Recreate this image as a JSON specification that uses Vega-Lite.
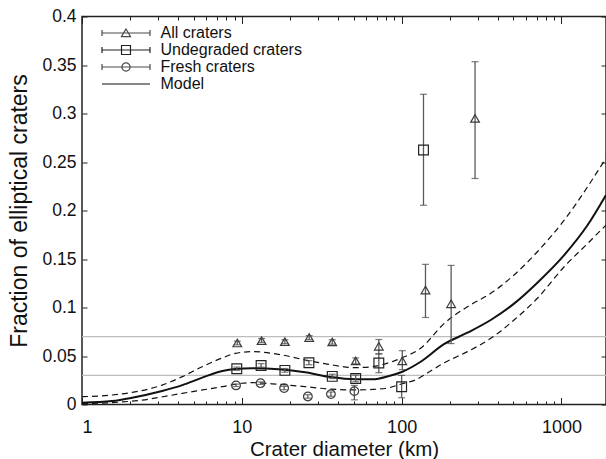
{
  "$schema": "https://vega.github.io/schema/vega-lite/v6.json",
  "width": 524,
  "height": 388,
  "autosize": {"type": "none"},
  "padding": {"left": 82, "top": 16.5, "right": 0, "bottom": 54.5},
  "config": {
    "font": "Liberation Sans",
    "view": {"stroke": "#222", "strokeWidth": 1.5},
    "axis": {"grid": false, "domain": false, "tickColor": "#222", "tickWidth": 1, "labelColor": "#111", "titleColor": "#111", "titleFontWeight": "normal", "labelFont": "Liberation Sans", "titleFont": "Liberation Sans"}
  },
  "datasets": {
    "model": [
      {"d": 1, "v": 0.0019, "curve": "model"},
      {"d": 1.54, "v": 0.0036, "curve": "model"},
      {"d": 2.06, "v": 0.007, "curve": "model"},
      {"d": 3.17, "v": 0.0139, "curve": "model"},
      {"d": 4.24, "v": 0.02, "curve": "model"},
      {"d": 5.65, "v": 0.0277, "curve": "model"},
      {"d": 7.55, "v": 0.0345, "curve": "model"},
      {"d": 9.1, "v": 0.0366, "curve": "model"},
      {"d": 11.6, "v": 0.0373, "curve": "model"},
      {"d": 17, "v": 0.0363, "curve": "model"},
      {"d": 24.9, "v": 0.0332, "curve": "model"},
      {"d": 34.9, "v": 0.0287, "curve": "model"},
      {"d": 51.3, "v": 0.026, "curve": "model"},
      {"d": 65.6, "v": 0.026, "curve": "model"},
      {"d": 83.4, "v": 0.0294, "curve": "model"},
      {"d": 101, "v": 0.0338, "curve": "model"},
      {"d": 131.6, "v": 0.0441, "curve": "model"},
      {"d": 185, "v": 0.0624, "curve": "model"},
      {"d": 258, "v": 0.074, "curve": "model"},
      {"d": 361, "v": 0.0871, "curve": "model"},
      {"d": 505, "v": 0.104, "curve": "model"},
      {"d": 707, "v": 0.1256, "curve": "model"},
      {"d": 1040, "v": 0.154, "curve": "model"},
      {"d": 1458, "v": 0.185, "curve": "model"},
      {"d": 1900, "v": 0.216, "curve": "model"},
      {"d": 1, "v": 0.008, "curve": "upper"},
      {"d": 1.54, "v": 0.0098, "curve": "upper"},
      {"d": 2.06, "v": 0.0125, "curve": "upper"},
      {"d": 3.17, "v": 0.02, "curve": "upper"},
      {"d": 4.24, "v": 0.0287, "curve": "upper"},
      {"d": 5.65, "v": 0.039, "curve": "upper"},
      {"d": 7.55, "v": 0.048, "curve": "upper"},
      {"d": 9.1, "v": 0.0527, "curve": "upper"},
      {"d": 11.6, "v": 0.0545, "curve": "upper"},
      {"d": 17, "v": 0.0517, "curve": "upper"},
      {"d": 24.9, "v": 0.0459, "curve": "upper"},
      {"d": 34.9, "v": 0.0414, "curve": "upper"},
      {"d": 51.3, "v": 0.038, "curve": "upper"},
      {"d": 65.6, "v": 0.039, "curve": "upper"},
      {"d": 83.4, "v": 0.0431, "curve": "upper"},
      {"d": 101, "v": 0.0483, "curve": "upper"},
      {"d": 131.6, "v": 0.058, "curve": "upper"},
      {"d": 185, "v": 0.0837, "curve": "upper"},
      {"d": 258, "v": 0.1008, "curve": "upper"},
      {"d": 361, "v": 0.1146, "curve": "upper"},
      {"d": 505, "v": 0.1335, "curve": "upper"},
      {"d": 707, "v": 0.1575, "curve": "upper"},
      {"d": 1040, "v": 0.19, "curve": "upper"},
      {"d": 1458, "v": 0.2245, "curve": "upper"},
      {"d": 1900, "v": 0.254, "curve": "upper"},
      {"d": 1, "v": 0.0008, "curve": "lower"},
      {"d": 2.38, "v": 0.0046, "curve": "lower"},
      {"d": 4.24, "v": 0.0115, "curve": "lower"},
      {"d": 7.55, "v": 0.0184, "curve": "lower"},
      {"d": 10.06, "v": 0.0219, "curve": "lower"},
      {"d": 11.6, "v": 0.0225, "curve": "lower"},
      {"d": 17, "v": 0.0208, "curve": "lower"},
      {"d": 24.9, "v": 0.0184, "curve": "lower"},
      {"d": 34.9, "v": 0.016, "curve": "lower"},
      {"d": 51.3, "v": 0.015, "curve": "lower"},
      {"d": 65.6, "v": 0.0155, "curve": "lower"},
      {"d": 83.4, "v": 0.0173, "curve": "lower"},
      {"d": 101, "v": 0.0215, "curve": "lower"},
      {"d": 122, "v": 0.0253, "curve": "lower"},
      {"d": 150, "v": 0.034, "curve": "lower"},
      {"d": 185, "v": 0.043, "curve": "lower"},
      {"d": 258, "v": 0.0545, "curve": "lower"},
      {"d": 361, "v": 0.0682, "curve": "lower"},
      {"d": 505, "v": 0.0871, "curve": "lower"},
      {"d": 707, "v": 0.1095, "curve": "lower"},
      {"d": 1040, "v": 0.142, "curve": "lower"},
      {"d": 1458, "v": 0.166, "curve": "lower"},
      {"d": 1900, "v": 0.185, "curve": "lower"}
    ],
    "points": [
      {"series": "All craters", "d": 9.37, "f": 0.0634, "lo": 0.0615, "hi": 0.0653},
      {"series": "All craters", "d": 13.3, "f": 0.0659, "lo": 0.064, "hi": 0.068},
      {"series": "All craters", "d": 18.6, "f": 0.0648, "lo": 0.0628, "hi": 0.0668},
      {"series": "All craters", "d": 26.4, "f": 0.069, "lo": 0.067, "hi": 0.071},
      {"series": "All craters", "d": 36.8, "f": 0.0645, "lo": 0.0622, "hi": 0.0668},
      {"series": "All craters", "d": 51.6, "f": 0.045, "lo": 0.042, "hi": 0.048},
      {"series": "All craters", "d": 72, "f": 0.06, "lo": 0.052, "hi": 0.067},
      {"series": "All craters", "d": 101, "f": 0.045, "lo": 0.036, "hi": 0.0555},
      {"series": "All craters", "d": 141, "f": 0.118, "lo": 0.0897, "hi": 0.1445},
      {"series": "All craters", "d": 204, "f": 0.1038, "lo": 0.0628, "hi": 0.1434},
      {"series": "All craters", "d": 288, "f": 0.295, "lo": 0.233, "hi": 0.3534},
      {"series": "Undegraded craters", "d": 9.3, "f": 0.0369, "lo": 0.0352, "hi": 0.0386},
      {"series": "Undegraded craters", "d": 13.2, "f": 0.0403, "lo": 0.0385, "hi": 0.0421},
      {"series": "Undegraded craters", "d": 18.6, "f": 0.0352, "lo": 0.0333, "hi": 0.0371},
      {"series": "Undegraded craters", "d": 26.3, "f": 0.0431, "lo": 0.041, "hi": 0.0452},
      {"series": "Undegraded craters", "d": 36.8, "f": 0.029, "lo": 0.0268, "hi": 0.0312},
      {"series": "Undegraded craters", "d": 51.6, "f": 0.0269, "lo": 0.0235, "hi": 0.0303},
      {"series": "Undegraded craters", "d": 72, "f": 0.0428, "lo": 0.0328, "hi": 0.0524},
      {"series": "Undegraded craters", "d": 100, "f": 0.0183, "lo": 0.007, "hi": 0.03},
      {"series": "Undegraded craters", "d": 137, "f": 0.2624, "lo": 0.2054, "hi": 0.3198},
      {"series": "Fresh craters", "d": 9.2, "f": 0.0197, "lo": 0.0185, "hi": 0.021},
      {"series": "Fresh craters", "d": 13.1, "f": 0.022, "lo": 0.0207, "hi": 0.0233},
      {"series": "Fresh craters", "d": 18.4, "f": 0.0169, "lo": 0.0152, "hi": 0.0186},
      {"series": "Fresh craters", "d": 25.9, "f": 0.0083, "lo": 0.0065, "hi": 0.0101},
      {"series": "Fresh craters", "d": 36.1, "f": 0.0107, "lo": 0.0085, "hi": 0.0129},
      {"series": "Fresh craters", "d": 50.6, "f": 0.0138, "lo": 0.0048, "hi": 0.0197}
    ],
    "refs": [{"g": 0.07}, {"g": 0.03}],
    "legend": [
      {"entry": "All craters"},
      {"entry": "Undegraded craters"},
      {"entry": "Fresh craters"},
      {"entry": "Model"}
    ]
  },
  "layer": [
    {
      "data": {"name": "refs"},
      "mark": {"type": "rule", "color": "#bdbdbd", "strokeWidth": 1.2},
      "encoding": {
        "y": {"field": "g", "type": "quantitative", "scale": {"domain": [0, 0.4], "nice": false},
          "axis": {"orient": "right", "values": [0, 0.05, 0.1, 0.15, 0.2, 0.25, 0.3, 0.35, 0.4], "labels": false, "tickSize": -5, "title": null}}
      }
    },
    {
      "data": {"name": "model"},
      "transform": [{"filter": "datum.curve == 'model'"}],
      "mark": {"type": "line", "color": "#111", "strokeWidth": 2, "interpolate": "monotone"},
      "encoding": {
        "x": {"field": "d", "type": "quantitative", "scale": {"type": "log", "domain": [1, 1900], "nice": false},
          "axis": {"orient": "bottom", "values": [1, 10, 100, 1000], "format": "~g", "labelFontSize": 18, "tickSize": -7, "labelPadding": 20.5, "title": "Crater diameter (km)", "titleFontSize": 20.5, "titlePadding": 3}},
        "y": {"field": "v", "type": "quantitative", "scale": {"domain": [0, 0.4], "nice": false},
          "axis": {"orient": "left", "values": [0, 0.05, 0.1, 0.15, 0.2, 0.25, 0.3, 0.35, 0.4], "format": "~g", "labelFontSize": 17.5, "tickSize": -5, "labelPadding": 11, "title": "Fraction of elliptical craters", "titleFontSize": 23, "titlePadding": 10}}
      }
    },
    {
      "data": {"name": "model"},
      "transform": [{"filter": "datum.curve != 'model'"}],
      "mark": {"type": "line", "color": "#111", "strokeWidth": 1.2, "strokeDash": [6, 4], "interpolate": "monotone"},
      "encoding": {
        "x": {"field": "d", "type": "quantitative", "scale": {"type": "log", "domain": [1, 1900], "nice": false}, "axis": null},
        "y": {"field": "v", "type": "quantitative", "scale": {"domain": [0, 0.4], "nice": false}, "axis": null},
        "detail": {"field": "curve"}
      }
    },
    {
      "data": {"name": "points"},
      "mark": {"type": "rule", "color": "#5a5a5a", "strokeWidth": 1.3},
      "encoding": {
        "x": {"field": "d", "type": "quantitative", "scale": {"type": "log", "domain": [1, 1900], "nice": false},
          "axis": {"orient": "bottom", "values": [2, 3, 4, 5, 6, 7, 8, 9, 20, 30, 40, 50, 60, 70, 80, 90, 200, 300, 400, 500, 600, 700, 800, 900], "labels": false, "tickSize": -3.5, "title": null}},
        "y": {"field": "lo", "type": "quantitative", "scale": {"domain": [0, 0.4], "nice": false}, "axis": null},
        "y2": {"field": "hi"}
      }
    },
    {
      "data": {"name": "points"},
      "mark": {"type": "tick", "orient": "horizontal", "color": "#444", "size": 7, "thickness": 1.2},
      "encoding": {
        "x": {"field": "d", "type": "quantitative", "scale": {"type": "log", "domain": [1, 1900], "nice": false},
          "axis": {"orient": "top", "values": [1, 10, 100, 1000], "labels": false, "tickSize": -7, "title": null}},
        "y": {"field": "lo", "type": "quantitative", "scale": {"domain": [0, 0.4], "nice": false}, "axis": null}
      }
    },
    {
      "data": {"name": "points"},
      "mark": {"type": "tick", "orient": "horizontal", "color": "#444", "size": 7, "thickness": 1.2},
      "encoding": {
        "x": {"field": "d", "type": "quantitative", "scale": {"type": "log", "domain": [1, 1900], "nice": false},
          "axis": {"orient": "top", "values": [2, 3, 4, 5, 6, 7, 8, 9, 20, 30, 40, 50, 60, 70, 80, 90, 200, 300, 400, 500, 600, 700, 800, 900], "labels": false, "tickSize": -3.5, "title": null}},
        "y": {"field": "hi", "type": "quantitative", "scale": {"domain": [0, 0.4], "nice": false}, "axis": null}
      }
    },
    {
      "data": {"name": "points"},
      "transform": [{"filter": "datum.series == 'All craters'"}],
      "mark": {"type": "point", "shape": "triangle-up", "filled": false, "stroke": "#3a3a3a", "strokeWidth": 1.2, "size": 75, "opacity": 1},
      "encoding": {
        "x": {"field": "d", "type": "quantitative", "scale": {"type": "log", "domain": [1, 1900], "nice": false}, "axis": null},
        "y": {"field": "f", "type": "quantitative", "scale": {"domain": [0, 0.4], "nice": false}, "axis": null}
      }
    },
    {
      "data": {"name": "points"},
      "transform": [{"filter": "datum.series == 'Undegraded craters'"}],
      "mark": {"type": "point", "shape": "square", "filled": false, "stroke": "#222", "strokeWidth": 1.2, "size": 95, "opacity": 1},
      "encoding": {
        "x": {"field": "d", "type": "quantitative", "scale": {"type": "log", "domain": [1, 1900], "nice": false}, "axis": null},
        "y": {"field": "f", "type": "quantitative", "scale": {"domain": [0, 0.4], "nice": false}, "axis": null}
      }
    },
    {
      "data": {"name": "points"},
      "transform": [{"filter": "datum.series == 'Fresh craters'"}],
      "mark": {"type": "point", "shape": "circle", "filled": false, "stroke": "#3a3a3a", "strokeWidth": 1.2, "size": 75, "opacity": 1},
      "encoding": {
        "x": {"field": "d", "type": "quantitative", "scale": {"type": "log", "domain": [1, 1900], "nice": false}, "axis": null},
        "y": {"field": "f", "type": "quantitative", "scale": {"domain": [0, 0.4], "nice": false}, "axis": null}
      }
    },
    {
      "data": {"name": "legend"},
      "mark": {"type": "point", "filled": false, "opacity": 0},
      "encoding": {
        "shape": {"field": "entry", "type": "nominal",
          "scale": {"domain": ["All craters", "Undegraded craters", "Fresh craters", "Model"],
            "range": [
              "M-3,0H3M-3,-0.375V0.375M3,-0.375V0.375M0,-0.5L0.57,0.45L-0.57,0.45Z",
              "M-3,0H3M-3,-0.375V0.375M3,-0.375V0.375M-0.56,-0.56H0.56V0.56H-0.56Z",
              "M-3,0H3M-3,-0.375V0.375M3,-0.375V0.375M-0.52,0A0.52,0.52,0,1,0,0.52,0A0.52,0.52,0,1,0,-0.52,0Z",
              "M-3,0H3"
            ]},
          "legend": {"title": null, "orient": "none", "legendX": 19.5, "legendY": 7.5, "symbolSize": 256, "symbolOffset": 15.5, "symbolOpacity": 1, "symbolFillColor": "transparent", "labelFontSize": 16, "labelFont": "Liberation Sans", "labelColor": "#111", "labelOffset": 25.5, "rowPadding": -2}},
        "stroke": {"field": "entry", "type": "nominal",
          "scale": {"domain": ["All craters", "Undegraded craters", "Fresh craters", "Model"], "range": ["#4a4a4a", "#222", "#4a4a4a", "#111"]},
          "legend": {"title": null, "orient": "none", "legendX": 19.5, "legendY": 7.5, "symbolSize": 256, "symbolOffset": 15.5, "symbolOpacity": 1, "symbolFillColor": "transparent", "labelFontSize": 16, "labelFont": "Liberation Sans", "labelColor": "#111", "labelOffset": 25.5, "rowPadding": -2}},
        "strokeWidth": {"field": "entry", "type": "nominal",
          "scale": {"domain": ["All craters", "Undegraded craters", "Fresh craters", "Model"], "range": [1.2, 1.2, 1.2, 2]},
          "legend": {"title": null, "orient": "none", "legendX": 19.5, "legendY": 7.5, "symbolSize": 256, "symbolOffset": 15.5, "symbolOpacity": 1, "symbolFillColor": "transparent", "labelFontSize": 16, "labelFont": "Liberation Sans", "labelColor": "#111", "labelOffset": 25.5, "rowPadding": -2}}
      }
    }
  ],
  "resolve": {"axis": {"x": "independent", "y": "independent"}}
}
